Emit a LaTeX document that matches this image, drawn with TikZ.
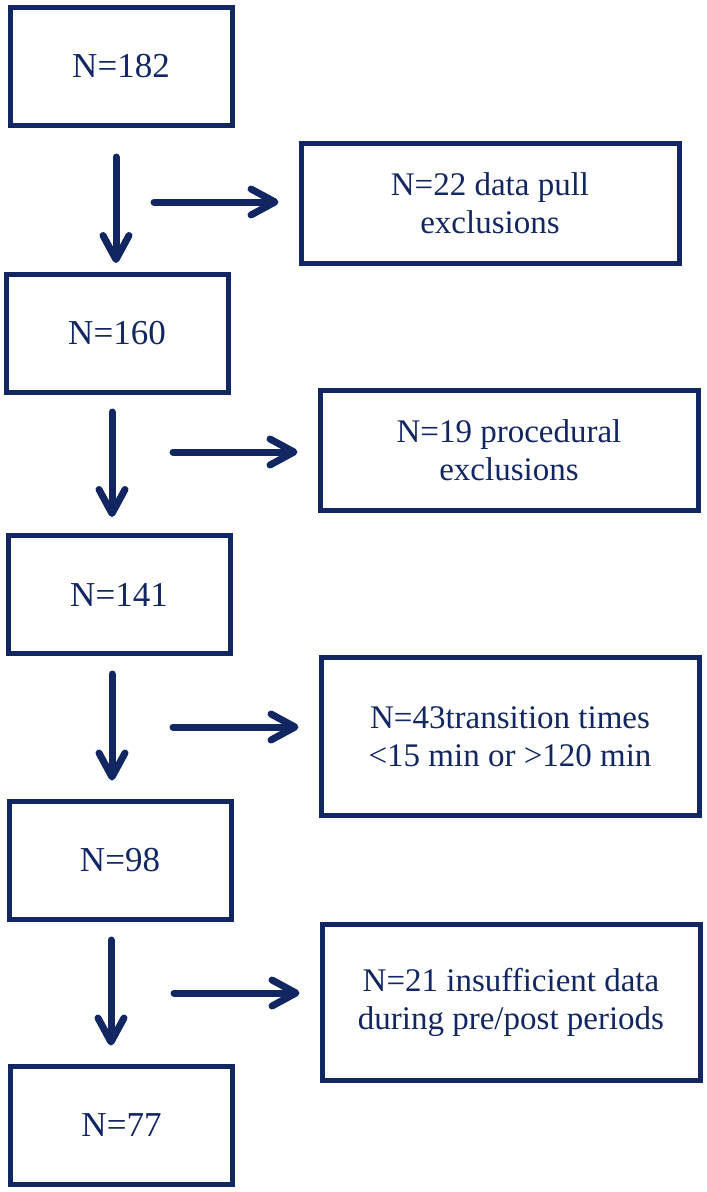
\documentclass[tikz,border=0pt]{standalone}
\usepackage{fontspec}
\setmainfont{Liberation Serif}
\newfontfamily\flowfont{Liberation Serif}
\definecolor{flownavy}{RGB}{18, 38, 98}
\usetikzlibrary{arrows.meta, positioning}

\begin{document}
\begin{tikzpicture}[
  x=1pt, y=-1pt,
  stage/.style={rectangle, draw=flownavy, line width=5pt, text=flownavy,
                minimum width=222pt, minimum height=118pt, align=center,
                font=\flowfont\fontsize{35}{40}\selectfont},
  excl/.style={rectangle, draw=flownavy, line width=5pt, text=flownavy,
               minimum width=378pt, minimum height=120pt, align=center,
               font=\flowfont\fontsize{33}{38}\selectfont},
  arr/.style={-{Straight Barb[length=24pt, width=26pt, round]}, line width=7pt,
              line cap=round, flownavy}
]
  \useasboundingbox (0,0) rectangle (707,1192);

  % remaining cohort
  \node[stage] (n182) at (121,66.5) {N=182};
  \node[stage] (n160) at (117,333.5) {N=160};
  \node[stage] (n141) at (119,594.5) {N=141};
  \node[stage] (n98) at (120,860) {N=98};
  \node[stage] (n77) at (121.5,1125) {N=77};

  % exclusions
  \node[excl] (x22) at (490,203) {N=22 data pull\\exclusions};
  \node[excl] (x19) at (509,450.5) {N=19 procedural\\exclusions};
  \node[excl, minimum height=158pt] (x43) at (510,736.5) {N=43transition times\\<15 min or >120 min};
  \node[excl, minimum height=156pt] (x21) at (511,1002.5) {N=21 insufficient data\\during pre/post periods};

  % downward arrows
  \coordinate (d1) at (116,157);
  \coordinate (d2) at (112,412);
  \coordinate (d3) at (112,674);
  \coordinate (d4) at (111,940);
  \draw[arr, shorten >=9pt] (d1) -- (d1 |- n160.north);
  \draw[arr, shorten >=16pt] (d2) -- (d2 |- n141.north);
  \draw[arr, shorten >=18pt] (d3) -- (d3 |- n98.north);
  \draw[arr, shorten >=18pt] (d4) -- (d4 |- n77.north);

  % side arrows
  \coordinate (s1) at (154,202);
  \coordinate (s2) at (173,452);
  \coordinate (s3) at (173,727);
  \coordinate (s4) at (174,993);
  \draw[arr, shorten >=20pt] (s1) -- (x22.west |- s1);
  \draw[arr, shorten >=20pt] (s2) -- (x19.west |- s2);
  \draw[arr, shorten >=20pt] (s3) -- (x43.west |- s3);
  \draw[arr, shorten >=20pt] (s4) -- (x21.west |- s4);
\end{tikzpicture}
\end{document}
